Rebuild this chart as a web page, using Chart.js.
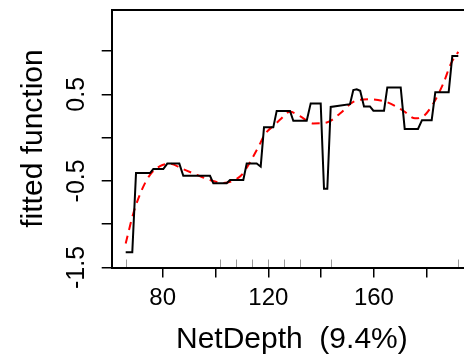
<!DOCTYPE html>
<html>
<head>
<meta charset="utf-8">
<script src="https://cdn.jsdelivr.net/npm/chart.js@4/dist/chart.umd.min.js"></script>
<style>
  html, body { margin: 0; padding: 0; background: #fff; overflow: hidden; width: 464px; height: 364px; }
  canvas { display: block; }
</style>
</head>
<body>
<canvas id="c" width="472" height="364"></canvas>
<script>
// Partial dependence (black, stepwise) on NetDepth
const stepX = [65.98, 68.48, 69.89, 75.19, 76.44, 80.23, 81.74, 86.29, 87.80, 97.92,
  99.17, 104.24, 105.49, 110.53, 111.82, 115.6, 117.12, 118.37, 121.89, 123.18,
  128.22, 129.47, 134.55, 136.06, 139.85, 141.10, 142.35, 143.64, 150.95, 152.2,
  153.5, 154.8, 156.25, 158.5, 159.8, 163.83, 165.08, 170.15, 171.67, 176.70,
  178.22, 181.89, 183.26, 188.33, 189.70, 191.97];
const stepY = [-1.325, -1.325, -0.41, -0.41, -0.364, -0.364, -0.30, -0.30, -0.442, -0.442,
  -0.528, -0.528, -0.49, -0.49, -0.30, -0.30, -0.336, 0.118, 0.118, 0.308,
  0.308, 0.195, 0.195, 0.395, 0.395, -0.59, -0.59, 0.354, 0.386, 0.548,
  0.558, 0.54, 0.36, 0.36, 0.31, 0.31, 0.579, 0.579, 0.10, 0.10,
  0.201, 0.201, 0.524, 0.524, 0.943, 0.943];

// Smoothed fit (red dashed)
const smoothX = [65.98, 68.86, 72.05, 75.19, 78.98, 82.77, 87.2, 92.88, 97.92, 102.95,
  106.1, 109.9, 112.4, 116.2, 118.75, 122.5, 124.4, 128.22, 132.0, 137.05,
  142.12, 147.16, 152.2, 158.52, 164.85, 171.14, 175.57, 178.8, 182.5, 186.3,
  189.2, 191.97];
const smoothY = [-1.223, -0.876, -0.607, -0.43, -0.33, -0.30, -0.357, -0.43, -0.49, -0.523,
  -0.505, -0.432, -0.319, -0.11, 0.04, 0.15, 0.205, 0.297, 0.247, 0.163,
  0.174, 0.278, 0.412, 0.443, 0.41, 0.31, 0.222, 0.247, 0.394, 0.625,
  0.856, 0.99];

// Deciles of NetDepth (rug)
const rugX = [65.98, 101.6, 107.9, 114.0, 119.9, 125.9, 132.1, 143.8, 191.97];

const xTicks = [80, 100, 120, 140, 160, 180];
const xTickLabels = ['80', '', '120', '', '160', ''];
const yTicks = [-1.5, -1.0, -0.5, 0, 0.5, 1.0];
const yTickLabels = ['-1.5', '', '-0.5', '', '0.5', ''];

const xLabel = 'NetDepth  (9.4%)';
const yLabel = 'fitted function';

const FONT = '"Liberation Sans", Arial, Helvetica, sans-serif';

const stepData = stepX.map((x, i) => ({x, y: stepY[i]}));
const smoothData = smoothX.map((x, i) => ({x, y: smoothY[i]}));

const boxAndRug = {
  id: 'boxAndRug',
  afterDatasetsDraw(chart) {
    const {ctx, chartArea: a, scales} = chart;
    ctx.save();
    ctx.strokeStyle = '#999';
    ctx.lineWidth = 1;
    rugX.forEach(v => {
      const px = Math.round(scales.x.getPixelForValue(v)) + 0.5;
      ctx.beginPath();
      ctx.moveTo(px, a.bottom);
      ctx.lineTo(px, a.bottom - 8);
      ctx.stroke();
    });
    ctx.strokeStyle = '#000';
    ctx.lineWidth = 2;
    const l = Math.round(a.left), t = Math.round(a.top), b = Math.round(a.bottom);
    ctx.strokeRect(l, t, Math.round(a.right) + 4 - l, b - t);
    ctx.restore();
  }
};

new Chart(document.getElementById('c'), {
  type: 'line',
  data: {
    datasets: [
      {
        data: stepData,
        borderColor: '#000',
        borderWidth: 2,
        pointRadius: 0,
        tension: 0,
        fill: false
      },
      {
        data: smoothData,
        borderColor: '#ff0000',
        borderWidth: 2,
        borderDash: [8, 6],
        pointRadius: 0,
        cubicInterpolationMode: 'monotone',
        fill: false
      }
    ]
  },
  options: {
    responsive: false,
    animation: false,
    devicePixelRatio: 1,
    layout: { padding: { top: 9.5, left: 0, right: 0, bottom: 0 } },
    plugins: { legend: { display: false }, tooltip: { enabled: false } },
    scales: {
      x: {
        type: 'linear',
        min: 60.68,
        max: 197.16,
        afterBuildTicks(scale) { scale.ticks = xTicks.map(v => ({value: v})); },
        afterFit(scale) { scale.height = 96.5; scale.paddingLeft = 0; scale.paddingRight = 0; },
        grid: { drawOnChartArea: false, drawTicks: true, tickLength: 10, color: '#000', lineWidth: 1.5 },
        border: { display: false },
        ticks: {
          autoSkip: false,
          maxRotation: 0,
          minRotation: 0,
          padding: 6.5,
          color: '#000',
          font: { family: FONT, size: 24, lineHeight: 1.2 },
          callback(value, index) { return xTickLabels[index]; }
        },
        title: {
          display: true,
          text: xLabel,
          color: '#000',
          font: { family: FONT, size: 30, lineHeight: 1.2 },
          padding: { top: 0, bottom: 6 }
        }
      },
      y: {
        type: 'linear',
        min: -1.5,
        max: 1.479,
        afterBuildTicks(scale) { scale.ticks = yTicks.map(v => ({value: v})); },
        afterFit(scale) { scale.width = 111.7; scale.paddingTop = 0; scale.paddingBottom = 0; },
        grid: { drawOnChartArea: false, drawTicks: true, tickLength: 10, color: '#000', lineWidth: 1.5 },
        border: { display: false },
        ticks: {
          autoSkip: false,
          minRotation: 90,
          maxRotation: 90,
          crossAlign: 'center',
          padding: 3,
          color: '#000',
          font: { family: FONT, size: 25, lineHeight: 1.2 },
          callback(value, index) { return yTickLabels[index]; }
        },
        title: {
          display: true,
          text: yLabel,
          color: '#000',
          font: { family: FONT, size: 30, lineHeight: 1.2 },
          padding: { top: 15.4, bottom: 0 }
        }
      }
    }
  },
  plugins: [boxAndRug]
});
</script>
</body>
</html>
